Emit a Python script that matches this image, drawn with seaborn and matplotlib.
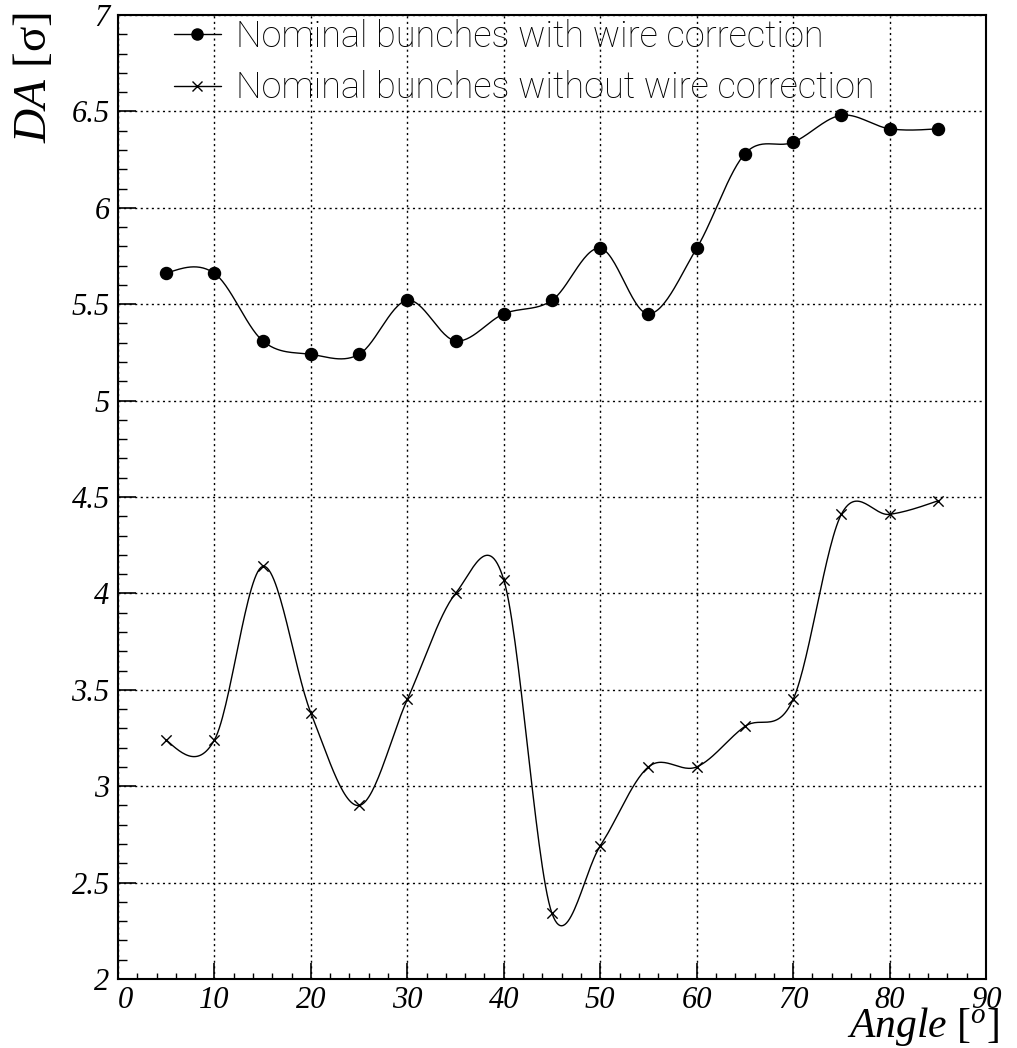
import numpy as np
import pandas as pd
import seaborn as sns
import matplotlib
matplotlib.use("Agg")
import matplotlib.pyplot as plt
from matplotlib.lines import Line2D
from matplotlib.ticker import MultipleLocator

# ---------------- data ----------------
angles = [5, 10, 15, 20, 25, 30, 35, 40, 45, 50, 55, 60, 65, 70, 75, 80, 85]
da_with_wire = [5.66, 5.66, 5.31, 5.24, 5.24, 5.52, 5.31, 5.45, 5.52, 5.79,
                5.45, 5.79, 6.28, 6.34, 6.48, 6.41, 6.41]
da_without_wire = [3.24, 3.24, 4.14, 3.38, 2.90, 3.45, 4.00, 4.07, 2.34, 2.69,
                   3.10, 3.10, 3.31, 3.45, 4.41, 4.41, 4.48]
label_with = "Nominal bunches with wire correction"
label_without = "Nominal bunches without wire correction"
x_ticks = [0, 10, 20, 30, 40, 50, 60, 70, 80, 90]
y_ticks = [2, 2.5, 3, 3.5, 4, 4.5, 5, 5.5, 6, 6.5, 7]


def smooth_curve(x, y, n=30):
    """Catmull-Rom style smooth curve through the points (display smoothing only)."""
    x = np.asarray(x, float)
    y = np.asarray(y, float)
    k = len(x)
    m = np.zeros(k)
    for i in range(1, k - 1):
        m[i] = (y[i + 1] - y[i - 1]) / (x[i + 1] - x[i - 1])
    h0 = x[1] - x[0]
    m[0] = (3 * (y[1] - y[0]) / h0 - m[1]) / 2
    hn = x[-1] - x[-2]
    m[-1] = (3 * (y[-1] - y[-2]) / hn - m[-2]) / 2
    xs, ys = [], []
    for i in range(k - 1):
        h = x[i + 1] - x[i]
        t = np.linspace(0, 1, n, endpoint=(i == k - 2))
        h00 = 2 * t ** 3 - 3 * t ** 2 + 1
        h10 = t ** 3 - 2 * t ** 2 + t
        h01 = -2 * t ** 3 + 3 * t ** 2
        h11 = t ** 3 - t ** 2
        xs.append(x[i] + t * h)
        ys.append(h00 * y[i] + h10 * h * m[i] + h01 * y[i + 1] + h11 * h * m[i + 1])
    return np.concatenate(xs), np.concatenate(ys)


sns.set_style("ticks")
plt.rcParams["font.family"] = ["Liberation Serif", "DejaVu Serif"]
plt.rcParams["mathtext.fontset"] = "custom"
plt.rcParams["mathtext.it"] = "Liberation Serif:italic"
plt.rcParams["mathtext.rm"] = "Liberation Serif"
for key in ["text.color", "axes.labelcolor", "xtick.color", "ytick.color", "axes.edgecolor"]:
    plt.rcParams[key] = "black"

fig = plt.figure(figsize=(10.17, 10.48), dpi=100)
ax = fig.add_axes([118 / 1017, 1 - 979 / 1048, (986 - 118) / 1017, (979 - 15) / 1048])

df = pd.DataFrame({"angle": angles, "with": da_with_wire, "without": da_without_wire})

for col, marker, ms in [("with", "o", 75), ("without", "x", 55)]:
    sx, sy = smooth_curve(df["angle"], df[col])
    sns.lineplot(x=sx, y=sy, ax=ax, color="black", lw=1.0, sort=False,
                 estimator=None, legend=False)
    sns.scatterplot(data=df, x="angle", y=col, ax=ax, marker=marker, s=ms,
                    color="black", edgecolor="black" if marker == "o" else None,
                    linewidth=1.0, legend=False, zorder=3)

ax.set_xlim(0, 90)
ax.set_ylim(2, 7)
ax.set_xticks(x_ticks)
ax.set_yticks(y_ticks)
ax.set_xticklabels([f"{v:g}" for v in x_ticks])
ax.set_yticklabels([f"{v:g}" for v in y_ticks])
ax.xaxis.set_minor_locator(MultipleLocator(2))
ax.yaxis.set_minor_locator(MultipleLocator(0.1))
ax.tick_params(axis="x", which="major", direction="in", length=11.5, width=1.2,
               labelsize=22, pad=5, top=False, color="black", labelcolor="black")
ax.tick_params(axis="x", which="minor", direction="in", length=4.5, width=1.0, top=False)
ax.tick_params(axis="y", which="major", direction="in", length=13, width=1.2,
               labelsize=22, pad=6, right=False, color="black", labelcolor="black")
ax.tick_params(axis="y", which="minor", direction="in", length=6.5, width=1.0, right=False)
for lab in ax.get_xticklabels() + ax.get_yticklabels():
    lab.set_fontstyle("italic")
ax.get_xticklabels()[0].set_horizontalalignment("left")
ax.grid(True, which="major", color="black", linestyle=(0, (1.5, 2.5)), linewidth=1.0)
for sp in ax.spines.values():
    sp.set_visible(True)
    sp.set_color("black")
    sp.set_linewidth(1.5)
ax.set_xlabel("")
ax.set_ylabel("")

fig.text(34 / 1017, 1 - 12 / 1048, r"$DA$ [σ]", rotation=90, ha="center", va="top",
         fontsize=34)
fig.text(999 / 1017, 11 / 1048, r"$Angle$ [$^{o}$]", ha="right", va="baseline",
         fontsize=30)

handles = [
    Line2D([], [], color="black", lw=1.0, marker="o", markersize=8),
    Line2D([], [], color="black", lw=1.0, marker="x", markersize=7, mew=1.0),
]
leg = ax.legend(handles, [label_with, label_without], loc="upper left",
                bbox_to_anchor=(0.035, 1.022), frameon=False, handlelength=1.3,
                handletextpad=0.42, labelspacing=0.42, borderaxespad=0.3,
                prop={"family": "Roboto", "weight": "light", "size": 26})
for t in leg.get_texts():
    t.set_color("black")

fig.savefig("out.png", dpi=100)
